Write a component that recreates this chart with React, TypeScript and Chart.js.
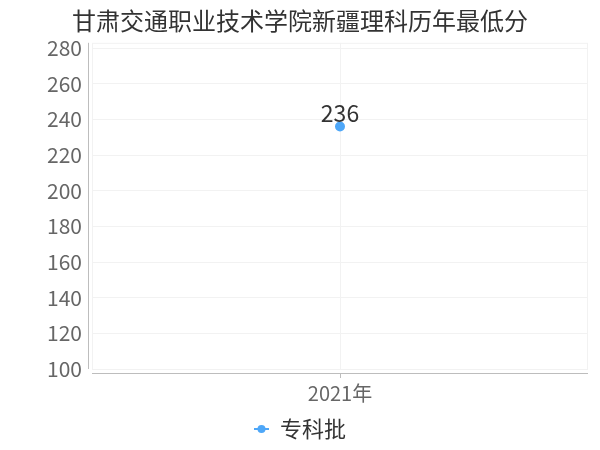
import { useEffect, useRef } from "react"
import { Chart, registerables } from "chart.js"

Chart.register(...registerables)

// dados do gráfico
const chartTitle = "甘肃交通职业技术学院新疆理科历年最低分"
const years = ["2021年"]
const seriesName = "专科批"
const scores = [236]
const yTicks = [100, 120, 140, 160, 180, 200, 220, 240, 260, 280]
const yMin = 100
const yMax = 283

const FONT = '"Noto Sans CJK SC", "Noto Sans", sans-serif'
const BLUE = "#4ea7f8"

// ícone da legenda: linha com bolinha
function legendIcon() {
  const c = document.createElement("canvas")
  c.width = 15
  c.height = 12
  const ctx = c.getContext("2d")!
  ctx.strokeStyle = BLUE
  ctx.lineWidth = 2
  ctx.beginPath()
  ctx.moveTo(0, 6)
  ctx.lineTo(15, 6)
  ctx.stroke()
  ctx.fillStyle = BLUE
  ctx.beginPath()
  ctx.arc(7.5, 6, 4, 0, Math.PI * 2)
  ctx.fill()
  return c
}

const axisFrame = {
  id: "axisFrame",
  beforeDatasetsDraw(chart: Chart) {
    const { ctx, chartArea } = chart
    const { left, right, top, bottom } = chartArea
    const xScale = chart.scales.x
    ctx.save()
    ctx.strokeStyle = "#f2f2f2"
    ctx.lineWidth = 1
    ctx.strokeRect(left + 0.5, top + 0.5, right - left - 1, bottom - top)
    ctx.strokeStyle = "#bdbdbd"
    ctx.beginPath()
    ctx.moveTo(left - 3.5, top)
    ctx.lineTo(left - 3.5, bottom)
    ctx.moveTo(left, bottom + 4.5)
    ctx.lineTo(right, bottom + 4.5)
    years.forEach((_, i) => {
      const x = Math.round(xScale.getPixelForValue(i)) + 0.5
      ctx.moveTo(x, bottom + 4.5)
      ctx.lineTo(x, bottom + 9)
    })
    ctx.stroke()
    ctx.restore()
  },
}

const valueLabels = {
  id: "valueLabels",
  afterDatasetsDraw(chart: Chart) {
    const { ctx } = chart
    ctx.save()
    ctx.font = `23px ${FONT}`
    ctx.fillStyle = "#333"
    ctx.textAlign = "center"
    ctx.textBaseline = "middle"
    chart.getDatasetMeta(0).data.forEach((pt, i) => {
      ctx.fillText(String(scores[i]), pt.x, pt.y - 13)
    })
    ctx.restore()
  },
}

export default function App() {
  const chartRef = useRef<HTMLCanvasElement>(null)
  const chartInstance = useRef<Chart | null>(null)

  useEffect(() => {
    if (!chartRef.current) return
    if (chartInstance.current) chartInstance.current.destroy()
    const ctx = chartRef.current.getContext("2d")
    if (!ctx) return

    const icon = legendIcon()

    chartInstance.current = new Chart(ctx, {
      type: "line",
      data: {
        labels: years,
        datasets: [
          {
            label: seriesName,
            data: scores,
            borderColor: BLUE,
            backgroundColor: BLUE,
            borderWidth: 2,
            pointRadius: 4,
            pointHoverRadius: 4,
          },
        ],
      },
      options: {
        responsive: false,
        animation: false,
        layout: { padding: { left: 12, right: 12, top: 0, bottom: 0 } },
        scales: {
          x: {
            offset: true,
            grid: { offset: false, color: "#f2f2f2", drawTicks: false },
            border: { display: false },
            ticks: { color: "#666", font: { family: FONT, size: 20 }, padding: 12 },
            afterFit: (scale: any) => {
              scale.height = 44
            },
          },
          y: {
            min: yMin,
            max: yMax,
            grid: { color: "#f2f2f2", drawTicks: false },
            border: { display: false },
            ticks: {
              color: "#666",
              font: { family: FONT, size: 21 },
              padding: 10,
            },
            afterBuildTicks: (scale: any) => {
              scale.ticks = yTicks.map((value) => ({ value }))
            },
            afterFit: (scale: any) => {
              scale.width = 80
            },
          },
        },
        plugins: {
          title: {
            display: true,
            text: chartTitle,
            color: "#333",
            font: { family: FONT, size: 24, weight: "normal" },
            padding: { top: 6, bottom: 8 },
          },
          legend: {
            position: "bottom",
            labels: {
              color: "#333",
              font: { family: FONT, size: 22 },
              usePointStyle: true,
              pointStyleWidth: 15,
              boxHeight: 12,
              padding: 5,
              generateLabels: (chart: Chart) => [
                {
                  text: seriesName,
                  fillStyle: BLUE,
                  strokeStyle: BLUE,
                  fontColor: "#333",
                  pointStyle: icon,
                  datasetIndex: 0,
                  hidden: !chart.isDatasetVisible(0),
                  lineWidth: 0,
                },
              ],
            },
          },
          tooltip: { enabled: false },
        },
      },
      plugins: [axisFrame, valueLabels],
    })

    return () => {
      if (chartInstance.current) chartInstance.current.destroy()
    }
  }, [])

  return (
    <div style={{ position: "absolute", left: 0, top: 0, width: 600, height: 450, background: "#fff" }}>
      <canvas ref={chartRef} width={600} height={450} />
    </div>
  )
}
